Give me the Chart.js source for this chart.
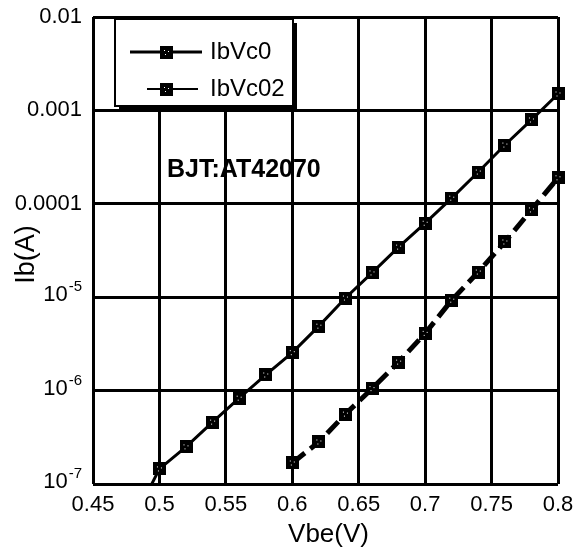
<!DOCTYPE html>
<html>
<head>
<meta charset="utf-8">
<script src="https://cdn.jsdelivr.net/npm/chart.js@4"></script>
<style>
html, body { margin: 0; padding: 0; background: #fff; }
#wrap { width: 576px; height: 552px; position: relative; }
</style>
</head>
<body>
<div id="wrap"><canvas id="chart"></canvas></div>
<script>
// data
const vbeVc0 = [0.48, 0.50, 0.52, 0.54, 0.56, 0.58, 0.60, 0.62, 0.64, 0.66, 0.68, 0.70, 0.72, 0.74, 0.76, 0.78, 0.80];
const ibVc0 = [4e-8, 1.45e-7, 2.5e-7, 4.6e-7, 8.3e-7, 1.47e-6, 2.55e-6, 4.9e-6, 9.8e-6, 1.82e-5, 3.44e-5, 6.2e-5, 1.15e-4, 2.19e-4, 4.26e-4, 7.9e-4, 1.5e-3];
const vbeVc02 = [0.60, 0.62, 0.64, 0.66, 0.68, 0.70, 0.72, 0.74, 0.76, 0.78, 0.80];
const ibVc02 = [1.68e-7, 2.82e-7, 5.6e-7, 1.05e-6, 2.02e-6, 4.1e-6, 9.3e-6, 1.86e-5, 3.9e-5, 8.6e-5, 1.9e-4];
const seriesNames = ['IbVc0', 'IbVc02'];

const xTicks = [0.45, 0.5, 0.55, 0.6, 0.65, 0.7, 0.75, 0.8];
const xTickLabels = ['0.45', '0.5', '0.55', '0.6', '0.65', '0.7', '0.75', '0.8'];
const yTicks = [1e-7, 1e-6, 1e-5, 1e-4, 1e-3, 1e-2];
const yTickLabels = [['10', '-7'], ['10', '-6'], ['10', '-5'], ['0.0001', ''], ['0.001', ''], ['0.01', '']];
const xTitle = 'Vbe(V)';
const yTitle = 'Ib(A)';
const note = 'BJT:AT42070';

const FONT = '"Liberation Sans", Arial, Helvetica, sans-serif';

// square marker with a few white dots inside
function makeMarker() {
    const c = document.createElement('canvas');
    c.width = 13; c.height = 13;
    const g = c.getContext('2d');
    g.fillStyle = '#000';
    g.fillRect(0, 0, 13, 13);
    g.fillStyle = '#fff';
    [[4, 4], [8, 5], [5, 8]].forEach(p => g.fillRect(p[0], p[1], 1, 1));
    return c;
}
const marker = makeMarker();

const decor = { // draws the tick labels, titles, legend box and the note
    id: 'decor',
    afterDraw(chart) {
        const ctx = chart.ctx;
        const xs = chart.scales.x, ys = chart.scales.y, area = chart.chartArea;
        ctx.save();
        ctx.fillStyle = '#000';

        // x tick labels
        ctx.font = '22px ' + FONT;
        ctx.textAlign = 'center';
        ctx.textBaseline = 'middle';
        xTicks.forEach((v, i) => ctx.fillText(xTickLabels[i], xs.getPixelForValue(v), area.bottom + 21));

        // y tick labels, powers of ten with a raised exponent
        yTicks.forEach((v, i) => {
            const py = ys.getPixelForValue(v);
            const base = yTickLabels[i][0], sup = yTickLabels[i][1];
            let right = area.left - 11;
            ctx.textBaseline = 'middle';
            if (sup) {
                ctx.font = '15px ' + FONT;
                ctx.textAlign = 'right';
                ctx.fillText(sup, right, py - 10);
                right -= ctx.measureText(sup).width + 1;
                ctx.font = '22px ' + FONT;
                ctx.fillText(base, right, py - 2);
            } else {
                ctx.font = '22px ' + FONT;
                ctx.textAlign = 'right';
                ctx.fillText(base, right, py);
            }
        });

        // axis titles
        ctx.font = '26px ' + FONT;
        ctx.textAlign = 'center';
        ctx.textBaseline = 'middle';
        ctx.fillText(xTitle, (area.left + area.right) / 2 + 3, area.bottom + 51);
        ctx.save();
        ctx.translate(27, (area.top + area.bottom) / 2 + 4);
        ctx.rotate(-Math.PI / 2);
        ctx.font = '27px ' + FONT;
        ctx.fillText(yTitle, 0, 0);
        ctx.restore();

        // legend box with a drop shadow
        const bx = 115, by = 19, bw = 178, bh = 87;
        ctx.fillRect(bx + 4, by + 4, bw, bh);
        ctx.fillStyle = '#fff';
        ctx.fillRect(bx, by, bw, bh);
        ctx.strokeStyle = '#000';
        ctx.lineWidth = 2;
        ctx.strokeRect(bx, by, bw, bh);

        const rows = [
            { y: 52, x0: 130, x1: 202, w: 3 },
            { y: 89, x0: 147, x1: 198, w: 2 }
        ];
        rows.forEach((r, i) => {
            ctx.beginPath();
            ctx.lineWidth = r.w;
            ctx.moveTo(r.x0, r.y);
            ctx.lineTo(r.x1, r.y);
            ctx.stroke();
            ctx.drawImage(marker, 160, r.y - 6);
            ctx.fillStyle = '#000';
            ctx.font = '24px ' + FONT;
            ctx.textAlign = 'left';
            ctx.textBaseline = 'middle';
            ctx.fillText(chart.data.datasets[i].label, 210, r.y);
        });

        // device note
        ctx.font = 'bold 25px ' + FONT;
        ctx.textAlign = 'left';
        ctx.fillText(note, 167, 170);
        ctx.restore();
    }
};

new Chart(document.getElementById('chart').getContext('2d'), {
    type: 'line',
    data: {
        datasets: [
            {
                label: seriesNames[0],
                data: vbeVc0.map((v, i) => ({ x: v, y: ibVc0[i] })),
                borderColor: '#000',
                borderWidth: 3,
                pointStyle: marker,
                pointRadius: 7,
                clip: { left: 0, top: 10, right: 10, bottom: 0 }
            },
            {
                label: seriesNames[1],
                data: vbeVc02.map((v, i) => ({ x: v, y: ibVc02[i] })),
                borderColor: '#000',
                borderWidth: 5,
                borderDash: [16, 7],
                pointStyle: marker,
                pointRadius: 7,
                clip: { left: 0, top: 10, right: 10, bottom: 0 }
            }
        ]
    },
    options: {
        responsive: true,
        maintainAspectRatio: false,
        animation: false,
        events: [],
        layout: { padding: { left: 93, right: 18, top: 17, bottom: 68 } },
        plugins: { legend: { display: false }, tooltip: { enabled: false } },
        scales: {
            x: {
                type: 'linear',
                min: 0.45,
                max: 0.8,
                afterBuildTicks: s => { s.ticks = xTicks.map(v => ({ value: v })); },
                ticks: { display: false },
                grid: { color: '#000', lineWidth: 3, drawTicks: false },
                border: { display: false }
            },
            y: {
                type: 'logarithmic',
                min: 1e-7,
                max: 0.01,
                afterBuildTicks: s => { s.ticks = yTicks.map(v => ({ value: v })); },
                ticks: { display: false },
                grid: { color: '#000', lineWidth: 3, drawTicks: false },
                border: { display: false }
            }
        }
    },
    plugins: [decor]
});
</script>
</body>
</html>
